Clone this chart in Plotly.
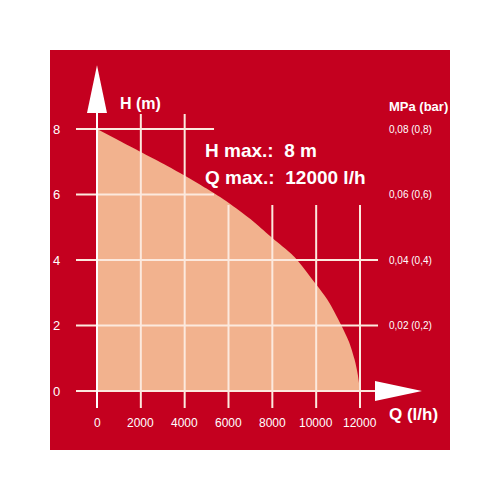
import plotly.graph_objects as go

RED = "#C4001F"
SALMON = "#F2B28E"
GRID = "#FCE9DE"
WHITE = "#FFFFFF"
FONT = "Liberation Sans, Arial, sans-serif"

# pump curve
flow_lh = [0, 1000, 2000, 3000, 4000, 5000, 6000, 7000, 8000, 9000,
           10000, 10500, 11000, 11500, 11750, 11900, 12000]
head_m = [8.0, 7.65, 7.3, 6.95, 6.58, 6.18, 5.75, 5.25, 4.67, 4.1,
          3.25, 2.8, 2.2, 1.5, 0.97, 0.5, 0.0]

x_ticks = [0, 2000, 4000, 6000, 8000, 10000, 12000]
y_ticks = [0, 2, 4, 6, 8]
pressure_labels = {2: "0,02 (0,2)", 4: "0,04 (0,4)", 6: "0,06 (0,6)", 8: "0,08 (0,8)"}

# page has an 8px body margin, so the figure sits 8px right/down
SHIFT = 8
PX_X = 12000 / 263
PX_Y = 8 / 262
X0_PX = 97 - SHIFT   # Q = 0 in figure pixels
Y0_PX = 391 - SHIFT  # H = 0 in figure pixels
X_RANGE = [-X0_PX * PX_X, (500 - X0_PX) * PX_X]
Y_RANGE = [-(500 - Y0_PX) * PX_Y, Y0_PX * PX_Y]

fig = go.Figure()

fig.add_trace(
    go.Scatter(
        x=flow_lh,
        y=head_m,
        mode="lines",
        fill="tozeroy",
        fillcolor=SALMON,
        line={"width": 0, "color": SALMON, "shape": "spline", "smoothing": 0.8},
        hoverinfo="skip",
    )
)

# grid lines
gx, gy = [], []
for t in x_ticks[1:]:
    top = 8.46 if t <= 4000 else 5.68
    gx += [t, t, None]
    gy += [-0.52, top, None]
for t in y_ticks:
    if t >= 6:
        right = 5340
    elif t > 0:
        right = 12822
    else:
        right = 12685
    gx += [-958, right, None]
    gy += [t, t, None]
fig.add_trace(
    go.Scatter(x=gx, y=gy, mode="lines", line={"color": GRID, "width": 2},
               hoverinfo="skip")
)

# axis lines and arrows
fig.add_trace(
    go.Scatter(x=[0, 0], y=[-0.52, 8.49], mode="lines",
               line={"color": WHITE, "width": 2}, hoverinfo="skip")
)
fig.add_trace(
    go.Scatter(x=[-456, 0, 456, -456], y=[8.49, 9.95, 8.49, 8.49],
               mode="lines", fill="toself", fillcolor=WHITE,
               line={"width": 0, "color": WHITE}, hoverinfo="skip")
)
fig.add_trace(
    go.Scatter(x=[12685, 14830, 12685, 12685], y=[0.305, 0, -0.305, 0.305],
               mode="lines", fill="toself", fillcolor=WHITE,
               line={"width": 0, "color": WHITE}, hoverinfo="skip")
)

annotations = []
for t in y_ticks:
    annotations.append(dict(x=-1870, y=t, text=str(t), showarrow=False,
                            xanchor="center", yanchor="middle",
                            font={"family": FONT, "size": 13, "color": WHITE}))
    if t in pressure_labels:
        annotations.append(dict(x=13233, y=t, text=pressure_labels[t], showarrow=False,
                                xanchor="left", yanchor="middle",
                                font={"family": FONT, "size": 10, "color": WHITE}))
for t in x_ticks:
    annotations.append(dict(x=t, y=-0.98, text=str(t), showarrow=False,
                            xanchor="center", yanchor="middle",
                            font={"family": FONT, "size": 12, "color": WHITE}))

annotations += [
    dict(x=958, y=8.79, text="<b>H (m)</b>", showarrow=False, xanchor="left",
         yanchor="middle", font={"family": FONT, "size": 16, "color": WHITE}),
    dict(x=13233, y=-0.73, text="<b>Q (l/h)</b>", showarrow=False, xanchor="left",
         yanchor="middle", font={"family": FONT, "size": 17, "color": WHITE}),
    dict(x=13233, y=8.70, text="<b>MPa (bar)</b>", showarrow=False, xanchor="left",
         yanchor="middle", font={"family": FONT, "size": 13, "color": WHITE}),
    dict(x=4837, y=7.33, text="<b>H max.:  8 m</b>", showarrow=False, xanchor="left",
         yanchor="middle", font={"family": FONT, "size": 19, "color": WHITE}),
    dict(x=4837, y=6.53, text="<b>Q max.:  12000 l/h</b>", showarrow=False,
         xanchor="left", yanchor="middle",
         font={"family": FONT, "size": 19, "color": WHITE}),
]

# red panel: page pixels 50..450 on both axes
p0 = (50 - SHIFT) / 500
p1 = (450 - SHIFT) / 500

fig.update_layout(
    width=500,
    height=500,
    margin={"l": 0, "r": 0, "t": 0, "b": 0},
    paper_bgcolor="white",
    plot_bgcolor="rgba(0,0,0,0)",
    showlegend=False,
    annotations=annotations,
    shapes=[
        dict(type="rect", xref="paper", yref="paper", x0=p0, x1=p1,
             y0=1 - p1, y1=1 - p0, fillcolor=RED, line={"width": 0}, layer="below"),
    ],
)
fig.update_xaxes(range=X_RANGE, visible=False, fixedrange=True)
fig.update_yaxes(range=Y_RANGE, visible=False, fixedrange=True)

fig.write_html("out.html")
